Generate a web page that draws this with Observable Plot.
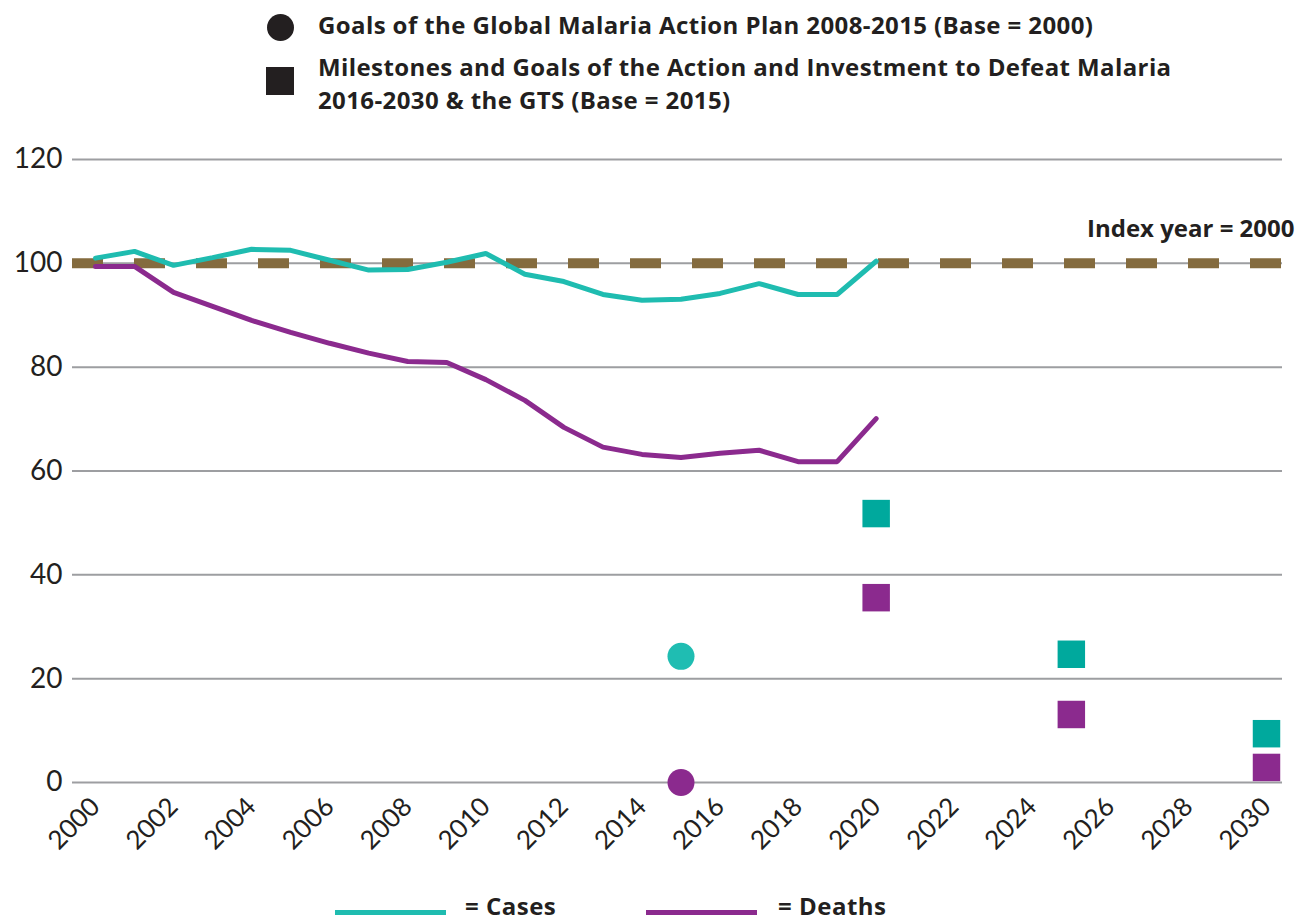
<!DOCTYPE html>
<html>
<head>
<meta charset="utf-8">
<script src="https://cdn.jsdelivr.net/npm/d3@7"></script>
<script src="https://cdn.jsdelivr.net/npm/@observablehq/plot@0.6"></script>
<style>
  html, body { margin: 0; padding: 0; background: #fff; }
  #wrap { position: relative; width: 1295px; height: 923px; overflow: hidden; font-family: Lato, "Open Sans", sans-serif; color: #231f20; }
  .lg { position: absolute; font-family: "Open Sans", Lato, sans-serif; font-weight: 700; font-size: 24px; line-height: 33px; white-space: nowrap; letter-spacing: 0.4px; }
  .bt { position: absolute; font-family: "Open Sans", Lato, sans-serif; font-weight: 700; font-size: 24px; line-height: 26px; white-space: nowrap; letter-spacing: 0.5px; }
  .sym { position: absolute; background: #231f20; }
  #chart { position: absolute; left: 0; top: 120px; }
  .bl { position: absolute; height: 5px; }
</style>
</head>
<body>
<div id="wrap">
  <div class="sym" style="left:267px;top:14px;width:27px;height:27px;border-radius:50%;"></div>
  <div class="lg" style="left:318px;top:8px;">Goals of the Global Malaria Action Plan 2008-2015 (Base = 2000)</div>
  <div class="sym" style="left:266px;top:67px;width:28px;height:28px;"></div>
  <div class="lg" style="left:318px;top:50px;">Milestones and Goals of the Action and Investment to Defeat Malaria<br>2016-2030 &amp; the GTS (Base = 2015)</div>
  <div id="chart"></div>
  <div class="bl" style="left:335px;top:910px;width:111px;background:#1fbcb0;"></div>
  <div class="bt" style="left:465px;top:893px;">= Cases</div>
  <div class="bl" style="left:646px;top:910px;width:111px;background:#8b2a8e;"></div>
  <div class="bt" style="left:778px;top:893px;">= Deaths</div>
</div>
<script>
const years = [2000,2001,2002,2003,2004,2005,2006,2007,2008,2009,2010,2011,2012,2013,2014,2015,2016,2017,2018,2019,2020];
const cases = [101.0,102.3,99.6,101.1,102.7,102.5,100.6,98.7,98.8,100.2,101.9,97.9,96.5,94.0,92.9,93.1,94.2,96.1,94.0,94.0,100.4];
const deaths = [99.4,99.4,94.4,91.7,89.0,86.7,84.6,82.7,81.1,80.9,77.6,73.6,68.4,64.6,63.2,62.6,63.4,64.0,61.8,61.8,70.1];

const gmapYears = [2015];
const gmapCases = [24.3];
const gmapDeaths = [0];

const gtsYears = [2020, 2025, 2030];
const gtsCases = [51.8, 24.7, 9.4];
const gtsDeaths = [35.6, 13.1, 2.9];

const indexValue = [100];
const indexLabel = "Index year = 2000";
const yTicks = [0, 20, 40, 60, 80, 100, 120];
const xTicks = [2000,2002,2004,2006,2008,2010,2012,2014,2016,2018,2020,2022,2024,2026,2028,2030];

const caseRows = years.map((year, i) => ({year, v: cases[i]}));
const deathRows = years.map((year, i) => ({year, v: deaths[i]}));
const gmapRows = [
  ...gmapYears.map((year, i) => ({year, v: gmapCases[i], s: "Cases"})),
  ...gmapYears.map((year, i) => ({year, v: gmapDeaths[i], s: "Deaths"}))
];
const gtsRows = [
  ...gtsYears.map((year, i) => ({year, v: gtsCases[i], s: "Cases"})),
  ...gtsYears.map((year, i) => ({year, v: gtsDeaths[i], s: "Deaths"}))
];

const chart = Plot.plot({
  width: 1295,
  height: 770,
  marginTop: 39,
  marginBottom: 108,
  marginLeft: 72,
  marginRight: 13,
  x: {domain: [2000, 2030], range: [95, 1266], label: null},
  y: {domain: [0, 120], label: null},
  style: {fontFamily: "Lato, 'Open Sans', sans-serif", color: "#231f20", background: "transparent"},
  marks: [
    Plot.ruleY(yTicks, {stroke: "#9d9ea1", strokeWidth: 2}),
    Plot.ruleY(indexValue, {stroke: "#846b3e", strokeWidth: 10, strokeDasharray: "31,31"}),
    Plot.lineY(caseRows, {x: "year", y: "v", stroke: "#1fbcb0", strokeWidth: 5, strokeLinejoin: "miter"}),
    Plot.lineY(deathRows, {x: "year", y: "v", stroke: "#8b2a8e", strokeWidth: 5, strokeLinejoin: "miter"}),
    Plot.dot(gmapRows, {x: "year", y: "v", r: 13.5, symbol: "circle", fill: d => d.s === "Cases" ? "#1fbdb2" : "#8b2a8e", stroke: null}),
    Plot.dot(gtsRows, {x: "year", y: "v", r: 15.5, symbol: "square", fill: d => d.s === "Cases" ? "#00a99d" : "#8b2a8e", stroke: null}),
    Plot.text([indexLabel], {y: indexValue, text: d => d, frameAnchor: "right", textAnchor: "end", dx: 12, dy: -34, fontSize: 24, fontWeight: 700, fontFamily: "'Open Sans', Lato, sans-serif", fill: "#231f20", style: {letterSpacing: "0.5px"}}),
    Plot.axisY({ticks: yTicks, tickSize: 0, tickPadding: 10, fontSize: 28, label: null}),
    Plot.axisX({ticks: xTicks, tickFormat: d => String(d), tickRotate: -45, tickSize: 0, tickPadding: 20, fontSize: 26, label: null})
  ]
});
document.getElementById("chart").appendChild(chart);
</script>
</body>
</html>
